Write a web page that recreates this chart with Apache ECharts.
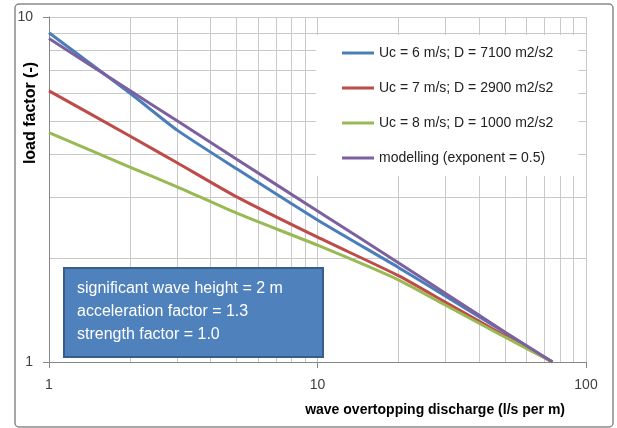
<!DOCTYPE html>
<html>
<head>
<meta charset="utf-8">
<script src="https://cdn.jsdelivr.net/npm/echarts@6/dist/echarts.min.js"></script>
<style>
html,body{margin:0;padding:0;background:#fff;}
#chart{width:617px;height:428px;}
</style>
</head>
<body>
<div id="chart"></div>
<script>
// discharge values (l/s per m)
var discharge = [1, 2, 3, 5, 10, 20, 30, 50, 75];
// load factor per series
var uc6 = [9.0, 6.02, 4.70, 3.63, 2.58, 1.88, 1.55, 1.215, 1.0];
var uc7 = [6.11, 4.52, 3.78, 3.01, 2.30, 1.78, 1.49, 1.19, 1.0];
var uc8 = [4.62, 3.67, 3.22, 2.70, 2.18, 1.73, 1.46, 1.18, 1.0];
var modelling = [8.66, 6.12, 5.0, 3.87, 2.74, 1.94, 1.58, 1.22, 1.0];
var seriesNames = ['Uc = 6 m/s; D = 7100 m2/s2', 'Uc = 7 m/s; D = 2900 m2/s2', 'Uc = 8 m/s; D = 1000 m2/s2', 'modelling (exponent = 0.5)'];
var seriesValues = [uc6, uc7, uc8, modelling];
var seriesColors = ['#4A7EBB', '#BE4B48', '#98B954', '#7D60A0'];
var xAxisTitle = 'wave overtopping discharge (l/s per m)';
var yAxisTitle = 'load factor (-)';
var noteLines = ['significant wave height = 2 m', 'acceleration factor = 1.3', 'strength factor = 1.0'];

function pairs(xs, ys){ return xs.map(function(x,i){ return [x, ys[i]]; }); }

var chart = echarts.init(document.getElementById('chart'), null, {renderer:'canvas'});
var font = '"Liberation Sans", Arial, sans-serif';
var option = {
  animation: false,
  backgroundColor: '#fff',
  grid: {left: 49, right: 31, top: 17, bottom: 66, containLabel: false},
  xAxis: {
    type: 'log', logBase: 10, min: 1, max: 100,
    axisLine: {show: true, lineStyle: {color: '#868686', width: 1}},
    axisTick: {show: true, inside: false, length: 6, lineStyle: {color: '#868686'}},
    minorTick: {show: false, splitNumber: 9},
    splitLine: {show: true, lineStyle: {color: '#c9c9c9', width: 1}},
    minorSplitLine: {show: true, lineStyle: {color: '#c9c9c9', width: 1}},
    axisLabel: {margin: 16, fontSize: 14, color: '#404040', fontFamily: font}
  },
  yAxis: {
    type: 'log', logBase: 10, min: 1, max: 10,
    axisLine: {show: true, lineStyle: {color: '#868686', width: 1}},
    axisTick: {show: true, inside: false, length: 6, lineStyle: {color: '#868686'}},
    minorTick: {show: false, splitNumber: 9},
    splitLine: {show: true, lineStyle: {color: '#c9c9c9', width: 1}},
    minorSplitLine: {show: true, lineStyle: {color: '#c9c9c9', width: 1}},
    axisLabel: {margin: 16, fontSize: 14, color: '#404040', fontFamily: font}
  },
  legend: {
    orient: 'vertical', left: 316, top: 35,
    padding: [10, 25, 10, 26],
    backgroundColor: '#ffffff',
    icon: 'rect',
    itemWidth: 32, itemHeight: 3, itemGap: 19,
    textStyle: {fontSize: 14, color: '#222', fontFamily: font, lineHeight: 16},
    data: seriesNames
  },
  series: seriesNames.map(function(n, i){
    return {
      name: n, type: 'line', data: pairs(discharge, seriesValues[i]),
      symbol: 'none', showSymbol: false, smooth: 0.2, color: seriesColors[i],
      itemStyle: {color: seriesColors[i]},
      lineStyle: {width: 3, color: seriesColors[i]}
    };
  }),
  graphic: [
    {type: 'rect', shape: {x: 15, y: 4, width: 598, height: 423, r: 4}, style: {fill: 'none', stroke: '#8a8a8a', lineWidth: 1.5}, silent: true, z: 10},
    {type: 'rect', shape: {x: 64, y: 268, width: 259, height: 89}, style: {fill: '#4F81BD', stroke: '#385D8A', lineWidth: 2}, z: 10},
    {type: 'text', x: 77, y: 277, z: 11, style: {text: noteLines.join('\n'), fill: '#ffffff', font: '16px ' + font, lineHeight: 23}},
    {type: 'text', x: 31, y: 113, rotation: Math.PI/2, z: 11, style: {text: yAxisTitle, fill: '#000', font: 'bold 16px ' + font, align: 'center', verticalAlign: 'middle'}},
    {type: 'text', x: 565, y: 410, z: 11, style: {text: xAxisTitle, fill: '#000', font: 'bold 14px ' + font, align: 'right', verticalAlign: 'middle'}}
  ]
};
chart.setOption(option);
</script>
</body>
</html>
